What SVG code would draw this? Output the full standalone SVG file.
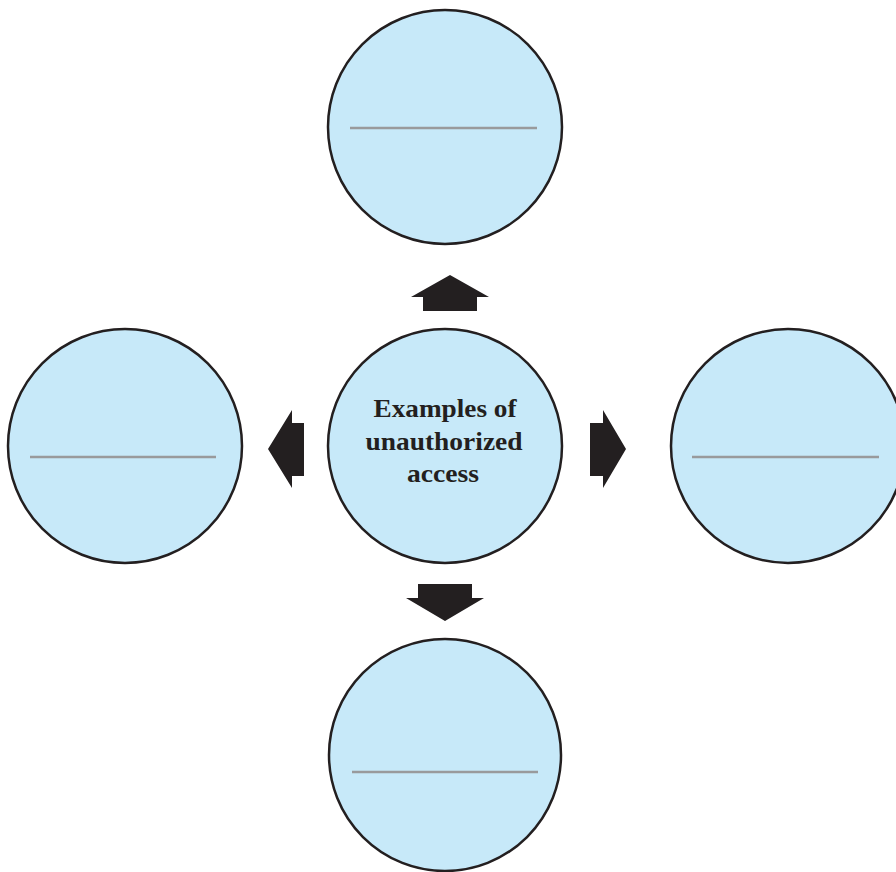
<svg xmlns="http://www.w3.org/2000/svg" width="896" height="872" viewBox="0 0 896 872">
<style>
.node circle{fill:#c7e9f9;stroke:#231f20;stroke-width:2.5}
.node line{stroke:#999a9c;stroke-width:2.5}
.arrow{fill:#231f20}
.label{font-family:"Liberation Serif",serif;font-weight:bold;font-size:26px;fill:#231f20;text-anchor:middle}
</style>
<rect width="896" height="872" fill="#ffffff"/>
<g id="connectors">
<polygon class="arrow" points="450,275 489,297 477,297 477,311 423,311 423,297 411,297"/>
<polygon class="arrow" points="268,449 292,410 292,423 304,423 304,476 292,476 292,488"/>
<polygon class="arrow" points="626,449 603,410 603,423 590,423 590,476 603,476 603,488"/>
<polygon class="arrow" points="445,621 484,598 472,598 472,584 418,584 418,598 406,598"/>
</g>
<g id="node-top" class="node">
<circle cx="445" cy="127" r="117"/>
<line x1="350" y1="128" x2="537" y2="128"/>
</g>
<g id="node-left" class="node">
<circle cx="125" cy="446" r="117"/>
<line x1="30" y1="457" x2="216" y2="457"/>
</g>
<g id="node-right" class="node">
<circle cx="788" cy="446" r="117"/>
<line x1="692" y1="457" x2="879" y2="457"/>
</g>
<g id="node-bottom" class="node">
<circle cx="445" cy="755" r="116"/>
<line x1="352" y1="772" x2="538" y2="772"/>
</g>
<g id="node-center" class="node">
<circle cx="445" cy="446" r="117"/>
<text class="label" x="445" y="417" textLength="143" lengthAdjust="spacingAndGlyphs">Examples of</text>
<text class="label" x="444" y="450" textLength="157" lengthAdjust="spacingAndGlyphs">unauthorized</text>
<text class="label" x="443" y="482" textLength="72" lengthAdjust="spacingAndGlyphs">access</text>
</g>
</svg>
